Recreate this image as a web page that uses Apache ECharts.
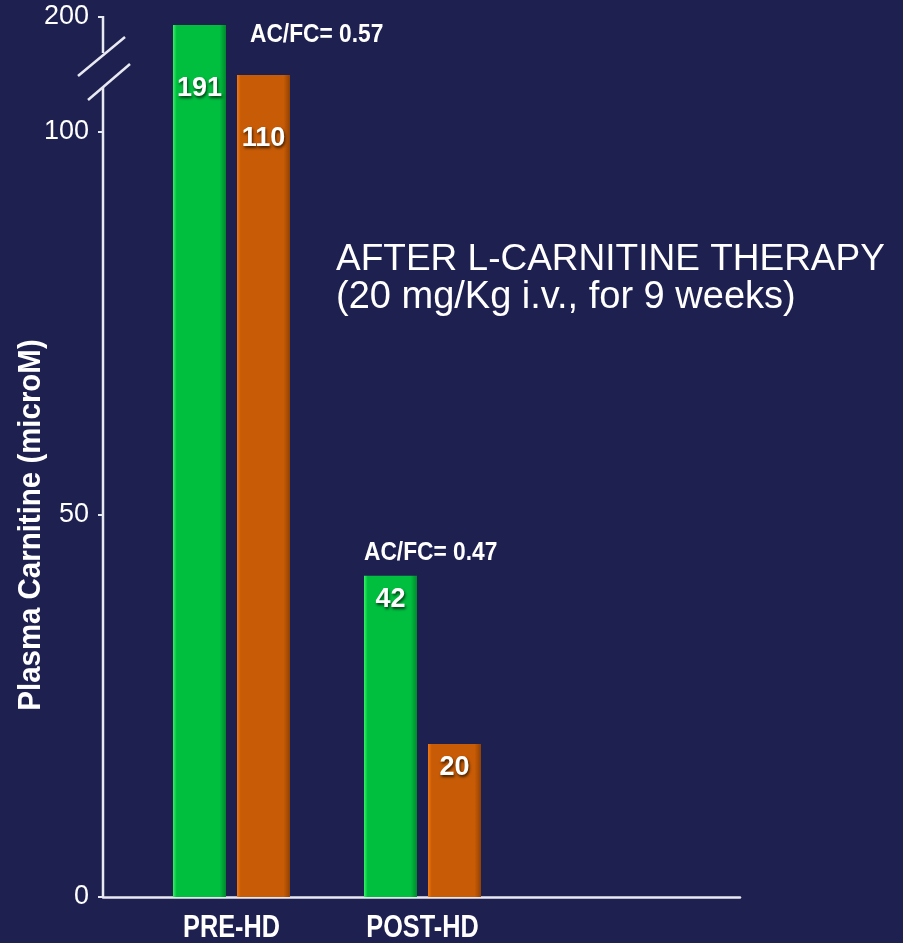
<!DOCTYPE html>
<html>
<head>
<meta charset="utf-8">
<script src="https://cdn.jsdelivr.net/npm/echarts@6/dist/echarts.min.js"></script>
<style>
  html, body { margin: 0; padding: 0; background: #1e2050; }
  #chart { width: 903px; height: 943px; }
</style>
</head>
<body>
<div id="chart"></div>
<script>
// ---- data ----
const categories = ['PRE-HD', 'POST-HD'];
const freeCarnitine = [191, 42];   // green bars (FC)
const acylCarnitine = [110, 20];   // orange bars (AC)
const ratioLabels = ['AC/FC= 0.57', 'AC/FC= 0.47'];
const yTickValues = [0, 50, 100, 200];
const yAxisName = 'Plasma Carnitine (microM)';
const titleLine1 = 'AFTER L-CARNITINE THERAPY';
const titleLine2 = '(20 mg/Kg i.v., for 9 weeks)';

// ---- styling ----
const BG = '#1e2050';
const AXIS = '#e9e9f2';
const sans = '"Liberation Sans", Arial, sans-serif';

const yBreaks = [
  { start: 101, end: 109, gap: 5.45 },
  { start: 111, end: 190, gap: 4.54 },
  { start: 191.3, end: 199.7, gap: 0.44 }
];

function grad(light, main, dark) {
  return new echarts.graphic.LinearGradient(0, 0, 1, 0, [
    { offset: 0, color: light },
    { offset: 0.07, color: main },
    { offset: 0.88, color: main },
    { offset: 1, color: dark }
  ]);
}
const greenFill = grad('#35f266', '#00bf3f', '#008a2c');
const orangeFill = grad('#f37912', '#c85b05', '#8f4104');

const labelDistances = [50, 10];
function barData(values) {
  return values.map((v, i) => ({ value: v, label: { distance: labelDistances[i] } }));
}

const barLabel = {
  show: true,
  position: 'insideTop',
  color: '#ffffff',
  fontFamily: sans,
  fontWeight: 'bold',
  fontSize: 27,
  textShadowColor: 'rgba(0,0,0,0.7)',
  textShadowBlur: 3,
  textShadowOffsetX: 1,
  textShadowOffsetY: 2
};

const yCommon = {
  type: 'value',
  min: 0,
  max: 200,
  breaks: yBreaks,
  breakArea: { show: false },
  splitLine: { show: false }
};

const chart = echarts.init(document.getElementById('chart'), null, { renderer: 'canvas' });
chart.setOption({
  backgroundColor: BG,
  animation: false,
  title: [
    {
      text: titleLine1,
      left: 331,
      top: 236,
      textStyle: { color: '#ffffff', fontFamily: sans, fontWeight: 'normal', fontSize: 37, lineHeight: 37 }
    },
    {
      text: titleLine2,
      left: 331,
      top: 274,
      textStyle: { color: '#ffffff', fontFamily: sans, fontWeight: 'normal', fontSize: 38, lineHeight: 38 }
    }
  ],
  grid: [
    { left: 103, right: 163, top: 17, bottom: 46 },
    { left: 136, width: 382, top: 17, bottom: 46 }
  ],
  xAxis: [
    {
      gridIndex: 0,
      type: 'category',
      data: [''],
      axisLine: { show: true, lineStyle: { color: AXIS, width: 2.5 } },
      axisTick: { show: false },
      axisLabel: { show: false }
    },
    {
      gridIndex: 1,
      type: 'category',
      data: categories,
      axisLine: { show: false },
      axisTick: { show: false },
      axisLabel: { show: false }
    }
  ],
  yAxis: [
    Object.assign({}, yCommon, {
      gridIndex: 0,
      axisLine: { show: false },
      axisTick: { show: true, length: 5, lineStyle: { color: AXIS, width: 2 }, customValues: yTickValues },
      axisLabel: {
        color: '#ffffff',
        fontFamily: sans,
        fontSize: 27,
        margin: 14,
        customValues: yTickValues
      }
    }),
    Object.assign({}, yCommon, {
      gridIndex: 1,
      show: false
    })
  ],
  series: [
    {
      name: 'FC',
      type: 'bar',
      xAxisIndex: 1,
      yAxisIndex: 1,
      data: barData(freeCarnitine),
      barWidth: 53,
      barGap: '20.75%',
      itemStyle: { color: greenFill },
      label: barLabel
    },
    {
      name: 'AC',
      type: 'bar',
      xAxisIndex: 1,
      yAxisIndex: 1,
      data: barData(acylCarnitine),
      barWidth: 53,
      barGap: '20.75%',
      itemStyle: { color: orangeFill },
      label: barLabel
    }
  ]
});

// ---- decorations positioned through the axes ----
const axisX = chart.convertToPixel({ xAxisIndex: 0 }, 0) - chart.getModel().getComponent('grid', 0).coordinateSystem.getRect().width / 2;
const yTop = chart.convertToPixel({ yAxisIndex: 0 }, yTickValues[yTickValues.length - 1]);
const yZero = chart.convertToPixel({ yAxisIndex: 0 }, 0);
const catX = categories.map(c => chart.convertToPixel({ xAxisIndex: 1 }, c));

const graphics = [
  // y axis line, broken between the slashes
  { type: 'line', z: 50, shape: { x1: axisX, y1: yTop - 1, x2: axisX, y2: 53 }, style: { stroke: AXIS, lineWidth: 2.5 } },
  { type: 'line', z: 50, shape: { x1: axisX, y1: 87, x2: axisX, y2: yZero }, style: { stroke: AXIS, lineWidth: 2.5 } },
  { type: 'line', z: 51, shape: { x1: 78, y1: 76, x2: 125, y2: 37 }, style: { stroke: AXIS, lineWidth: 2.5 } },
  { type: 'line', z: 51, shape: { x1: 88, y1: 100, x2: 130, y2: 64 }, style: { stroke: AXIS, lineWidth: 2.5 } },
  {
    type: 'text', z: 51, x: 31, y: 525, rotation: Math.PI / 2, scaleX: 0.92,
    style: { text: yAxisName, fill: '#ffffff', font: 'bold 32px ' + sans, textAlign: 'center', textVerticalAlign: 'middle', align: 'center', verticalAlign: 'middle' }
  },
  {
    type: 'text', z: 51, x: 250, y: 35, scaleX: 0.91,
    style: { text: ratioLabels[0], fill: '#ffffff', font: 'bold 25px ' + sans, textVerticalAlign: 'middle', verticalAlign: 'middle' }
  },
  {
    type: 'text', z: 51, x: 364, y: 553, scaleX: 0.91,
    style: { text: ratioLabels[1], fill: '#ffffff', font: 'bold 25px ' + sans, textVerticalAlign: 'middle', verticalAlign: 'middle' }
  }
];
categories.forEach((c, i) => {
  graphics.push({
    type: 'text', z: 51, x: catX[i], y: yZero + 31, scaleX: 0.79,
    style: { text: c, fill: '#ffffff', font: 'bold 32px ' + sans, textAlign: 'center', textVerticalAlign: 'middle', align: 'center', verticalAlign: 'middle' }
  });
});
chart.setOption({ graphic: graphics });
</script>
</body>
</html>
